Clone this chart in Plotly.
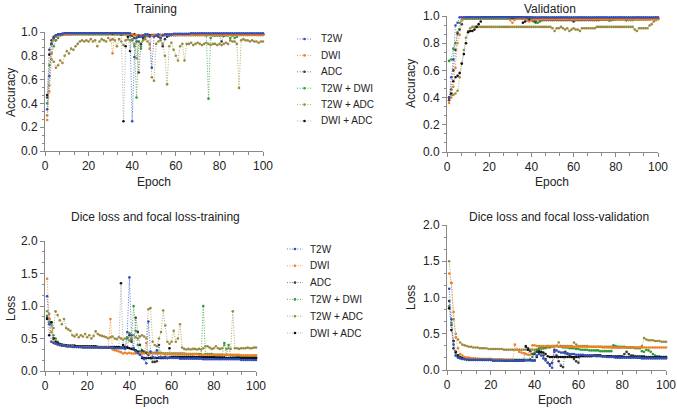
import plotly.graph_objects as go

epochs = list(range(1, 101))
series_names = ["T2W", "DWI", "ADC", "T2W + DWI", "T2W + ADC", "DWI + ADC"]

# ---------------- Training accuracy ----------------
acc_tr_t2w = [
0.35,0.63,0.90,0.95,0.97,0.98,0.98,0.985,0.99,0.99,
0.99,0.99,0.99,0.99,0.99,0.99,0.99,0.99,0.99,0.99,
0.99,0.99,0.99,0.99,0.99,0.99,0.99,0.99,0.99,0.99,
0.99,0.99,0.99,0.99,0.99,0.99,0.99,0.99,0.99,0.25,
0.79,0.95,0.97,0.96,0.97,0.98,0.98,0.97,0.70,0.96,
0.97,0.98,0.95,0.97,0.98,0.98,0.98,0.98,0.985,0.985,
0.985,0.985,0.985,0.985,0.985,0.985,0.99,0.99,0.99,0.99,
0.99,0.99,0.99,0.99,0.99,0.99,0.99,0.99,0.99,0.99,
0.99,0.99,0.99,0.99,0.99,0.99,0.99,0.99,0.99,0.99,
0.99,0.99,0.99,0.99,0.99,0.99,0.99,0.99,0.99,0.99]
acc_tr_dwi = [
0.26,0.50,0.82,0.93,0.96,0.97,0.975,0.98,0.98,0.98,
0.98,0.98,0.985,0.985,0.985,0.985,0.985,0.985,0.985,0.985,
0.985,0.985,0.985,0.985,0.985,0.985,0.985,0.985,0.985,0.985,
0.82,0.98,0.985,0.985,0.985,0.985,0.98,0.98,0.985,0.98,
0.97,0.975,0.975,0.975,0.975,0.975,0.97,0.86,0.97,0.975,
0.975,0.975,0.975,0.975,0.975,0.975,0.975,0.975,0.975,0.975,
0.975,0.975,0.975,0.975,0.975,0.975,0.975,0.975,0.975,0.975,
0.975,0.975,0.975,0.975,0.975,0.975,0.975,0.975,0.975,0.975,
0.975,0.975,0.975,0.975,0.975,0.975,0.975,0.975,0.975,0.975,
0.975,0.975,0.975,0.975,0.975,0.975,0.975,0.975,0.975,0.975]
acc_tr_adc = [
0.45,0.85,0.93,0.96,0.97,0.98,0.98,0.985,0.99,0.99,
0.99,0.99,0.99,0.99,0.99,0.99,0.99,0.99,0.99,0.99,
0.99,0.99,0.99,0.99,0.99,0.99,0.99,0.99,0.99,0.99,
0.99,0.99,0.99,0.99,0.99,0.99,0.99,0.99,0.98,0.97,
0.95,0.92,0.66,0.90,0.95,0.97,0.97,0.96,0.97,0.97,
0.97,0.96,0.95,0.88,0.94,0.96,0.97,0.975,0.975,0.975,
0.975,0.975,0.975,0.975,0.975,0.975,0.975,0.975,0.975,0.975,
0.975,0.975,0.975,0.975,0.975,0.975,0.975,0.975,0.975,0.975,
0.92,0.97,0.98,0.98,0.98,0.98,0.98,0.98,0.98,0.98,
0.98,0.98,0.98,0.98,0.98,0.98,0.98,0.98,0.98,0.98]
acc_tr_t2w_dwi = [
0.40,0.72,0.82,0.88,0.93,0.95,0.97,0.975,0.98,0.98,
0.98,0.98,0.98,0.98,0.98,0.98,0.98,0.98,0.98,0.98,
0.98,0.98,0.98,0.98,0.98,0.98,0.98,0.98,0.98,0.98,
0.98,0.98,0.98,0.98,0.98,0.98,0.98,0.98,0.97,0.93,
0.88,0.45,0.92,0.86,0.95,0.96,0.97,0.97,0.97,0.975,
0.975,0.975,0.975,0.975,0.975,0.975,0.975,0.975,0.975,0.975,
0.975,0.975,0.975,0.975,0.975,0.975,0.975,0.975,0.975,0.975,
0.975,0.975,0.975,0.97,0.44,0.95,0.97,0.97,0.97,0.97,
0.97,0.97,0.97,0.97,0.95,0.97,0.95,0.96,0.975,0.975,
0.975,0.975,0.975,0.975,0.975,0.975,0.975,0.975,0.975,0.975]
acc_tr_t2w_adc = [
0.30,0.55,0.77,0.75,0.70,0.72,0.76,0.74,0.80,0.84,
0.82,0.86,0.85,0.88,0.90,0.92,0.93,0.92,0.93,0.92,
0.94,0.92,0.93,0.88,0.92,0.94,0.93,0.92,0.95,0.93,
0.94,0.93,0.88,0.94,0.92,0.89,0.93,0.94,0.93,0.94,
0.90,0.78,0.92,0.88,0.93,0.94,0.92,0.90,0.62,0.59,
0.90,0.92,0.93,0.90,0.80,0.56,0.88,0.91,0.85,0.80,
0.76,0.88,0.90,0.76,0.90,0.90,0.91,0.89,0.90,0.91,
0.90,0.89,0.90,0.91,0.90,0.89,0.90,0.90,0.89,0.90,
0.89,0.90,0.91,0.90,0.93,0.92,0.92,0.90,0.53,0.93,
0.94,0.93,0.93,0.92,0.93,0.92,0.92,0.91,0.92,0.92]
acc_tr_dwi_adc = [
0.47,0.81,0.90,0.95,0.97,0.975,0.98,0.98,0.985,0.99,
0.99,0.99,0.99,0.99,0.99,0.99,0.99,0.99,0.99,0.99,
0.99,0.99,0.99,0.99,0.99,0.99,0.99,0.99,0.99,0.99,
0.99,0.99,0.99,0.99,0.98,0.25,0.88,0.96,0.84,0.97,
0.98,0.97,0.96,0.97,0.97,0.975,0.975,0.975,0.975,0.975,
0.975,0.975,0.975,0.975,0.975,0.975,0.975,0.975,0.975,0.975,
0.98,0.98,0.98,0.98,0.98,0.98,0.98,0.98,0.98,0.98,
0.98,0.98,0.98,0.98,0.98,0.98,0.98,0.98,0.98,0.98,
0.98,0.98,0.98,0.98,0.98,0.98,0.98,0.98,0.98,0.98,
0.98,0.98,0.98,0.98,0.98,0.98,0.98,0.98,0.98,0.98]

# ---------------- Validation accuracy ----------------
acc_va_t2w = [
0.40,0.55,0.68,0.93,0.95,0.99,0.99,0.99,0.99,0.99,
0.99,0.99,0.99,0.99,0.99,0.99,0.99,0.99,0.99,0.99,
0.99,0.99,0.99,0.99,0.99,0.99,0.99,0.99,0.99,0.99,
0.99,0.99,0.99,0.99,0.99,0.99,0.99,0.99,0.99,0.99,
0.99,0.99,0.99,0.99,0.99,0.99,0.99,0.99,0.99,0.99,
0.99,0.99,0.99,0.99,0.99,0.99,0.99,0.99,0.99,0.99,
0.99,0.99,0.99,0.99,0.99,0.99,0.99,0.99,0.99,0.99,
0.99,0.99,0.99,0.99,0.99,0.99,0.99,0.99,0.99,0.99,
0.99,0.99,0.99,0.99,0.99,0.99,0.99,0.99,0.99,0.99,
0.99,0.99,0.99,0.99,0.99,0.99,0.99,0.99,0.99,0.99]
acc_va_dwi = [
0.36,0.40,0.48,0.62,0.80,0.86,0.97,0.98,0.985,0.985,
0.985,0.985,0.985,0.985,0.985,0.985,0.985,0.985,0.985,0.985,
0.985,0.985,0.985,0.985,0.985,0.985,0.985,0.985,0.985,0.97,
0.95,0.97,0.98,0.98,0.98,0.98,0.98,0.97,0.96,0.97,
0.975,0.975,0.975,0.975,0.975,0.975,0.975,0.975,0.975,0.975,
0.975,0.975,0.975,0.975,0.975,0.975,0.975,0.975,0.975,0.975,
0.975,0.975,0.975,0.975,0.975,0.975,0.975,0.975,0.975,0.975,
0.975,0.975,0.975,0.975,0.975,0.975,0.975,0.975,0.975,0.975,
0.975,0.975,0.975,0.975,0.975,0.975,0.975,0.975,0.975,0.975,
0.975,0.975,0.975,0.975,0.975,0.975,0.975,0.975,0.975,0.975]
acc_va_adc = [
0.38,0.46,0.60,0.75,0.87,0.90,0.94,0.98,0.99,0.99,
0.99,0.99,0.99,0.99,0.99,0.99,0.99,0.99,0.99,0.99,
0.99,0.99,0.99,0.99,0.99,0.99,0.99,0.99,0.99,0.99,
0.99,0.99,0.99,0.99,0.99,0.99,0.99,0.99,0.99,0.99,
0.97,0.96,0.98,0.97,0.97,0.97,0.97,0.97,0.97,0.97,
0.97,0.97,0.97,0.97,0.97,0.97,0.97,0.97,0.97,0.96,
0.97,0.97,0.97,0.97,0.97,0.97,0.97,0.97,0.97,0.97,
0.97,0.97,0.975,0.975,0.975,0.975,0.975,0.975,0.975,0.98,
0.98,0.98,0.98,0.98,0.97,0.98,0.98,0.98,0.98,0.98,
0.98,0.98,0.98,0.98,0.98,0.98,0.98,0.98,0.98,0.98]
acc_va_t2w_dwi = [
0.67,0.68,0.76,0.80,0.88,0.95,0.97,0.98,0.98,0.98,
0.98,0.98,0.98,0.98,0.98,0.98,0.98,0.98,0.98,0.98,
0.98,0.98,0.98,0.98,0.98,0.98,0.98,0.98,0.98,0.98,
0.98,0.98,0.98,0.98,0.98,0.98,0.98,0.98,0.98,0.98,
0.96,0.95,0.95,0.96,0.97,0.975,0.975,0.975,0.975,0.975,
0.975,0.975,0.975,0.975,0.975,0.975,0.975,0.975,0.975,0.975,
0.975,0.975,0.975,0.975,0.975,0.975,0.975,0.975,0.975,0.975,
0.975,0.975,0.975,0.975,0.975,0.975,0.965,0.97,0.975,0.975,
0.975,0.975,0.975,0.975,0.97,0.97,0.97,0.97,0.975,0.975,
0.975,0.975,0.975,0.975,0.975,0.975,0.98,0.98,0.98,0.98]
acc_va_t2w_adc = [
0.40,0.42,0.42,0.43,0.45,0.55,0.65,0.75,0.84,0.89,
0.91,0.92,0.92,0.92,0.92,0.92,0.92,0.92,0.92,0.92,
0.92,0.92,0.92,0.92,0.92,0.92,0.92,0.92,0.92,0.92,
0.92,0.92,0.92,0.92,0.92,0.92,0.92,0.92,0.92,0.92,
0.92,0.92,0.92,0.92,0.92,0.92,0.92,0.92,0.92,0.91,
0.89,0.91,0.91,0.92,0.91,0.90,0.91,0.89,0.90,0.91,
0.90,0.90,0.89,0.91,0.91,0.91,0.91,0.91,0.91,0.91,
0.92,0.92,0.92,0.92,0.92,0.92,0.92,0.92,0.92,0.92,
0.92,0.92,0.92,0.92,0.92,0.92,0.92,0.92,0.90,0.89,
0.91,0.91,0.91,0.91,0.91,0.93,0.94,0.96,0.97,0.98]
acc_va_dwi_adc = [
0.40,0.43,0.52,0.55,0.56,0.58,0.65,0.72,0.80,0.88,
0.89,0.89,0.90,0.92,0.94,0.96,0.99,0.99,0.99,0.99,
0.99,0.99,0.99,0.99,0.99,0.99,0.99,0.99,0.99,0.99,
0.99,0.99,0.99,0.99,0.99,0.95,0.96,0.97,0.97,0.97,
0.98,0.98,0.98,0.98,0.98,0.98,0.98,0.98,0.98,0.98,
0.98,0.98,0.98,0.98,0.98,0.98,0.98,0.98,0.98,0.98,
0.98,0.98,0.98,0.98,0.98,0.98,0.98,0.98,0.98,0.98,
0.98,0.98,0.98,0.98,0.98,0.98,0.98,0.98,0.98,0.98,
0.98,0.98,0.98,0.98,0.98,0.98,0.98,0.98,0.98,0.98,
0.98,0.98,0.98,0.98,0.98,0.98,0.98,0.98,0.98,0.98]

# ---------------- Training loss ----------------
loss_tr_t2w = [
1.15,0.72,0.45,0.43,0.42,0.41,0.40,0.39,0.39,0.38,
0.38,0.38,0.37,0.37,0.37,0.37,0.37,0.36,0.36,0.36,
0.36,0.36,0.36,0.36,0.36,0.36,0.36,0.36,0.36,0.36,
0.36,0.36,0.35,0.35,0.35,0.35,0.35,0.34,0.60,1.44,
0.55,0.35,0.30,0.28,0.25,0.22,0.18,0.12,0.76,0.30,
0.22,0.20,0.32,0.21,0.21,0.21,0.20,0.20,0.20,0.20,
0.20,0.20,0.20,0.19,0.19,0.19,0.19,0.19,0.19,0.19,
0.19,0.19,0.19,0.19,0.18,0.18,0.18,0.18,0.18,0.18,
0.18,0.18,0.18,0.18,0.18,0.18,0.18,0.18,0.18,0.18,
0.18,0.18,0.17,0.17,0.17,0.17,0.17,0.17,0.17,0.17]
loss_tr_dwi = [
1.42,0.80,0.60,0.45,0.42,0.40,0.40,0.39,0.39,0.38,
0.38,0.38,0.38,0.37,0.37,0.37,0.37,0.37,0.37,0.37,
0.37,0.36,0.36,0.36,0.36,0.36,0.36,0.36,0.36,0.37,
0.80,0.33,0.32,0.31,0.30,0.29,0.27,0.28,0.27,0.28,
0.27,0.27,0.27,0.27,0.27,0.27,0.27,0.43,0.27,0.27,
0.27,0.27,0.27,0.27,0.27,0.27,0.26,0.26,0.26,0.26,
0.26,0.26,0.26,0.26,0.26,0.26,0.26,0.26,0.26,0.26,
0.26,0.26,0.25,0.25,0.25,0.25,0.25,0.25,0.25,0.25,
0.25,0.25,0.25,0.25,0.25,0.25,0.25,0.25,0.25,0.25,
0.25,0.25,0.24,0.24,0.24,0.24,0.24,0.24,0.24,0.24]
loss_tr_adc = [
0.82,0.80,0.75,0.50,0.45,0.42,0.40,0.40,0.39,0.39,
0.38,0.38,0.38,0.38,0.38,0.37,0.37,0.37,0.37,0.37,
0.37,0.37,0.37,0.37,0.37,0.36,0.36,0.36,0.36,0.36,
0.36,0.36,0.36,0.36,0.36,0.36,0.36,0.36,0.36,0.55,
0.45,0.35,0.82,0.60,0.40,0.32,0.30,0.28,0.25,0.20,
0.14,0.14,0.15,0.40,0.20,0.20,0.22,0.20,0.21,0.22,
0.22,0.22,0.22,0.22,0.22,0.22,0.22,0.22,0.22,0.22,
0.21,0.21,0.21,0.21,0.21,0.21,0.21,0.21,0.21,0.21,
0.21,0.21,0.21,0.21,0.21,0.20,0.20,0.20,0.20,0.20,
0.20,0.20,0.20,0.20,0.20,0.20,0.20,0.20,0.20,0.20]
loss_tr_t2w_dwi = [
0.85,0.75,0.72,0.55,0.50,0.45,0.42,0.41,0.40,0.39,
0.38,0.38,0.38,0.38,0.38,0.37,0.37,0.37,0.37,0.37,
0.37,0.37,0.37,0.37,0.37,0.36,0.36,0.36,0.36,0.36,
0.36,0.36,0.36,0.36,0.36,0.36,0.36,0.36,0.50,0.58,
0.48,1.00,0.62,0.40,0.30,0.29,0.28,0.28,0.28,0.28,
0.28,0.28,0.28,0.28,0.28,0.27,0.27,0.27,0.27,0.27,
0.27,0.27,0.27,0.27,0.27,0.27,0.26,0.26,0.26,0.26,
0.26,0.26,0.26,0.26,1.00,0.26,0.26,0.26,0.26,0.25,
0.25,0.25,0.25,0.25,0.43,0.25,0.40,0.24,0.24,0.24,
0.23,0.23,0.23,0.22,0.22,0.22,0.22,0.21,0.21,0.21]
loss_tr_t2w_adc = [
0.92,0.88,0.70,0.66,0.92,0.86,0.78,0.72,0.80,0.66,
0.64,0.62,0.55,0.53,0.56,0.52,0.55,0.53,0.57,0.52,
0.55,0.50,0.54,0.61,0.57,0.55,0.54,0.53,0.52,0.50,
0.52,0.53,0.50,0.49,0.52,0.50,0.48,0.50,0.52,0.47,
0.50,0.55,0.52,0.50,0.53,0.55,0.53,0.50,0.95,0.97,
0.45,0.40,0.38,0.50,0.60,0.93,0.70,0.45,0.42,0.45,
0.62,0.45,0.50,0.72,0.36,0.34,0.33,0.34,0.33,0.34,
0.34,0.33,0.34,0.33,0.35,0.38,0.38,0.36,0.34,0.35,
0.38,0.35,0.34,0.35,0.40,0.34,0.35,0.34,0.92,0.35,
0.35,0.34,0.35,0.35,0.35,0.36,0.35,0.35,0.36,0.36]
loss_tr_dwi_adc = [
0.80,0.55,0.75,0.50,0.45,0.43,0.41,0.40,0.40,0.39,
0.39,0.39,0.39,0.39,0.38,0.38,0.38,0.38,0.38,0.38,
0.38,0.38,0.38,0.38,0.37,0.37,0.37,0.37,0.37,0.37,
0.37,0.37,0.37,0.37,0.37,1.35,0.40,0.37,0.36,0.35,
0.34,0.33,0.32,0.30,0.25,0.20,0.20,0.20,0.20,0.20,
0.20,0.20,0.20,0.20,0.20,0.20,0.20,0.20,0.35,0.21,
0.21,0.21,0.21,0.21,0.21,0.21,0.21,0.21,0.21,0.21,
0.21,0.21,0.21,0.21,0.21,0.21,0.21,0.21,0.21,0.21,
0.20,0.20,0.20,0.20,0.20,0.20,0.20,0.20,0.20,0.20,
0.20,0.20,0.20,0.20,0.20,0.20,0.20,0.20,0.20,0.20]

# ---------------- Validation loss ----------------
loss_va_t2w = [
1.12,0.70,0.35,0.20,0.17,0.16,0.15,0.15,0.14,0.14,
0.14,0.14,0.14,0.14,0.14,0.14,0.14,0.14,0.14,0.14,
0.13,0.13,0.13,0.13,0.13,0.13,0.13,0.13,0.13,0.13,
0.13,0.13,0.13,0.13,0.13,0.13,0.13,0.13,0.13,0.13,
0.20,0.22,0.20,0.16,0.13,0.10,0.06,0.03,0.25,0.27,
0.25,0.24,0.24,0.23,0.23,0.22,0.22,0.22,0.21,0.21,
0.21,0.21,0.20,0.20,0.20,0.20,0.20,0.19,0.19,0.19,
0.19,0.19,0.18,0.18,0.18,0.18,0.17,0.17,0.17,0.17,
0.17,0.17,0.17,0.17,0.17,0.17,0.17,0.17,0.16,0.16,
0.16,0.16,0.16,0.16,0.16,0.16,0.16,0.16,0.16,0.16]
loss_va_dwi = [
1.33,1.20,0.80,0.45,0.30,0.22,0.20,0.18,0.17,0.17,
0.16,0.16,0.16,0.15,0.15,0.15,0.15,0.15,0.15,0.15,
0.14,0.14,0.14,0.14,0.14,0.14,0.14,0.14,0.14,0.14,
0.35,0.28,0.25,0.24,0.23,0.22,0.21,0.21,0.34,0.34,
0.33,0.33,0.33,0.33,0.33,0.33,0.33,0.33,0.33,0.33,
0.32,0.32,0.32,0.32,0.32,0.32,0.32,0.32,0.32,0.32,
0.32,0.32,0.32,0.32,0.32,0.32,0.32,0.32,0.32,0.32,
0.31,0.31,0.31,0.31,0.31,0.31,0.31,0.31,0.31,0.31,
0.31,0.31,0.31,0.31,0.31,0.31,0.31,0.31,0.31,0.31,
0.31,0.31,0.31,0.31,0.31,0.31,0.31,0.31,0.31,0.31]
loss_va_adc = [
0.95,0.62,0.30,0.24,0.20,0.18,0.17,0.16,0.16,0.15,
0.15,0.15,0.15,0.15,0.15,0.14,0.14,0.14,0.14,0.14,
0.14,0.14,0.14,0.14,0.14,0.13,0.13,0.13,0.13,0.13,
0.13,0.13,0.13,0.13,0.13,0.33,0.30,0.26,0.22,0.22,
0.25,0.26,0.24,0.20,0.15,0.10,0.08,0.10,0.28,0.20,
0.12,0.06,0.04,0.25,0.22,0.20,0.18,0.15,0.12,0.10,
0.20,0.20,0.20,0.20,0.20,0.20,0.20,0.20,0.20,0.20,
0.19,0.19,0.19,0.19,0.19,0.19,0.19,0.19,0.19,0.19,
0.22,0.25,0.22,0.20,0.20,0.19,0.19,0.19,0.19,0.19,
0.18,0.18,0.18,0.18,0.18,0.18,0.18,0.18,0.18,0.18]
loss_va_t2w_dwi = [
0.88,0.65,0.30,0.20,0.18,0.17,0.16,0.16,0.15,0.15,
0.15,0.15,0.15,0.15,0.15,0.15,0.15,0.15,0.15,0.15,
0.14,0.14,0.14,0.14,0.14,0.14,0.14,0.14,0.14,0.14,
0.14,0.14,0.14,0.14,0.14,0.14,0.14,0.14,0.18,0.24,
0.28,0.30,0.32,0.30,0.31,0.33,0.32,0.33,0.33,0.33,
0.32,0.32,0.31,0.31,0.31,0.30,0.30,0.30,0.29,0.29,
0.28,0.28,0.28,0.28,0.27,0.27,0.27,0.27,0.27,0.26,
0.26,0.26,0.26,0.26,0.26,0.34,0.33,0.32,0.32,0.32,
0.32,0.31,0.31,0.31,0.31,0.30,0.30,0.30,0.26,0.25,
0.28,0.27,0.25,0.22,0.20,0.19,0.19,0.18,0.18,0.18]
loss_va_t2w_adc = [
1.50,1.20,0.70,0.50,0.42,0.38,0.35,0.34,0.33,0.32,
0.32,0.31,0.31,0.31,0.30,0.30,0.30,0.30,0.29,0.29,
0.29,0.29,0.29,0.29,0.29,0.28,0.28,0.28,0.28,0.28,
0.28,0.28,0.28,0.28,0.28,0.28,0.28,0.28,0.28,0.28,
0.28,0.29,0.29,0.30,0.30,0.31,0.31,0.32,0.32,0.33,
0.38,0.33,0.33,0.33,0.33,0.33,0.33,0.38,0.35,0.33,
0.33,0.33,0.33,0.33,0.32,0.32,0.32,0.32,0.32,0.32,
0.32,0.32,0.32,0.32,0.32,0.31,0.31,0.31,0.31,0.31,
0.31,0.31,0.31,0.31,0.31,0.31,0.31,0.31,0.33,0.44,
0.42,0.41,0.41,0.41,0.40,0.40,0.40,0.39,0.39,0.39]
loss_va_dwi_adc = [
0.85,0.55,0.40,0.25,0.20,0.17,0.16,0.15,0.15,0.14,
0.14,0.14,0.14,0.14,0.14,0.14,0.14,0.14,0.14,0.14,
0.13,0.13,0.13,0.13,0.13,0.13,0.13,0.13,0.13,0.13,
0.13,0.13,0.13,0.13,0.13,0.32,0.28,0.14,0.13,0.13,
0.18,0.24,0.25,0.24,0.22,0.19,0.18,0.18,0.18,0.18,
0.18,0.18,0.18,0.18,0.18,0.18,0.18,0.18,0.18,0.18,
0.19,0.19,0.19,0.19,0.19,0.19,0.20,0.20,0.20,0.20,
0.19,0.19,0.19,0.19,0.19,0.18,0.18,0.18,0.18,0.18,
0.18,0.18,0.18,0.18,0.18,0.18,0.17,0.17,0.17,0.17,
0.17,0.17,0.17,0.17,0.17,0.17,0.17,0.17,0.17,0.17]

line_colors = ["#5a76d0", "#f59a4e", "#7a7a7a", "#55b05e", "#b8aa66", "#b0b0b0"]
marker_colors = ["#2f4fbf", "#f07f22", "#3a3a3a", "#2f9a3a", "#9a8a3e", "#111111"]
DOT = "1px,1.6px"

panels = [
    ("x", "y", [acc_tr_t2w, acc_tr_dwi, acc_tr_adc, acc_tr_t2w_dwi, acc_tr_t2w_adc, acc_tr_dwi_adc]),
    ("x2", "y2", [acc_va_t2w, acc_va_dwi, acc_va_adc, acc_va_t2w_dwi, acc_va_t2w_adc, acc_va_dwi_adc]),
    ("x3", "y3", [loss_tr_t2w, loss_tr_dwi, loss_tr_adc, loss_tr_t2w_dwi, loss_tr_t2w_adc, loss_tr_dwi_adc]),
    ("x4", "y4", [loss_va_t2w, loss_va_dwi, loss_va_adc, loss_va_t2w_dwi, loss_va_t2w_adc, loss_va_dwi_adc]),
]

FONT = "Liberation Sans, Arial, Helvetica, sans-serif"
fig = go.Figure()
draw_order = [4, 3, 2, 5, 1, 0]
for xa, ya, data in panels:
    for i in draw_order:
        fig.add_trace(go.Scatter(
            x=epochs, y=data[i], xaxis=xa, yaxis=ya, name=series_names[i],
            mode="lines+markers", cliponaxis=False, showlegend=False,
            line=dict(color=line_colors[i], width=1, dash=DOT),
            marker=dict(color=marker_colors[i], size=2.6, line=dict(width=0))))

def ax_common(rng, dtick, minor_dtick, fmt=None):
    d = dict(range=rng, dtick=dtick, tick0=0, showline=True, linecolor="#8a8a8a", linewidth=1,
             ticks="outside", ticklen=4, tickcolor="#8a8a8a", tickwidth=1,
             showgrid=False, zeroline=False, fixedrange=True, automargin=False,
             tickfont=dict(family=FONT, size=12, color="#222222"),
             minor=dict(dtick=minor_dtick, tick0=0, ticks="outside", ticklen=2.5, tickcolor="#8a8a8a", showgrid=False))
    if fmt:
        d["tickformat"] = fmt
    return d

W, H = 677, 409
def xd(a, b):
    return [a / W, b / W]
def yd(top, bottom):
    return [1 - bottom / H, 1 - top / H]

fig.update_layout(
    width=W, height=H, autosize=False,
    margin=dict(l=0, r=0, t=0, b=0, autoexpand=False),
    paper_bgcolor="white", plot_bgcolor="white", showlegend=False,
    font=dict(family=FONT, size=12, color="#222222"),
    xaxis=dict(domain=xd(45, 263), anchor="y", **ax_common([0, 100], 20, 20 / 3)),
    yaxis=dict(domain=yd(32, 151), anchor="x", **ax_common([0, 1.0], 0.2, 0.2 / 3, fmt=".1f")),
    xaxis2=dict(domain=xd(447, 658), anchor="y2", **ax_common([0, 100], 20, 20 / 3)),
    yaxis2=dict(domain=yd(16, 152), anchor="x2", **ax_common([0, 1.0], 0.2, 0.2 / 3, fmt=".1f")),
    xaxis3=dict(domain=xd(45, 256), anchor="y3", **ax_common([0, 100], 20, 20 / 3)),
    yaxis3=dict(domain=yd(241, 371), anchor="x3", **ax_common([0, 2.0], 0.5, 0.5 / 3, fmt=".1f")),
    xaxis4=dict(domain=xd(447, 666), anchor="y4", **ax_common([0, 100], 20, 20 / 3)),
    yaxis4=dict(domain=yd(225, 370), anchor="x4", **ax_common([0, 2.0], 0.5, 0.5 / 3, fmt=".1f")),
)

annots = [
    ("Training", 155, 9.5, 0),
    ("Validation", 550, 9, 0),
    ("Dice loss and focal loss-training", 155, 217, 0),
    ("Dice loss and focal loss-validation", 559, 217, 0),
    ("Epoch", 154, 182, 0),
    ("Epoch", 552, 182, 0),
    ("Epoch", 152, 400, 0),
    ("Epoch", 555, 400, 0),
    ("Accuracy", 11, 92, -90),
    ("Accuracy", 411, 84, -90),
    ("Loss", 11, 308, -90),
    ("Loss", 411, 298, -90),
]
for text, px, py, ang in annots:
    fig.add_annotation(text=text, x=px / W, y=1 - py / H, xref="paper", yref="paper",
                       xanchor="center", yanchor="middle", showarrow=False, textangle=ang,
                       font=dict(family=FONT, size=12, color="#222222"))

# Hand-made legends (key line, key marker, label) for the two left panels
legend_specs = [
    (297, 312, 319, 39, 16.4),   # training accuracy legend: line x0, x1, text x, first row y, row step
    (287, 303, 308, 249, 16.8),  # training loss legend
]
for lx0, lx1, tx, ty0, step in legend_specs:
    for i, name in enumerate(series_names):
        yy = 1 - (ty0 + i * step) / H
        fig.add_shape(type="line", xref="paper", yref="paper", x0=lx0 / W, x1=lx1 / W, y0=yy, y1=yy,
                      line=dict(color=line_colors[i], width=1, dash=DOT))
        cx = (lx0 + lx1) / 2
        fig.add_shape(type="circle", xref="paper", yref="paper",
                      x0=(cx - 1.3) / W, x1=(cx + 1.3) / W, y0=yy - 1.3 / H, y1=yy + 1.3 / H,
                      line=dict(width=0), fillcolor=marker_colors[i])
        fig.add_annotation(text=name, x=tx / W, y=yy, xref="paper", yref="paper",
                           xanchor="left", yanchor="middle", showarrow=False,
                           font=dict(family=FONT, size=10, color="#222222"))

fig.write_html("out.html", config={"displayModeBar": False, "staticPlot": True},
               post_script="document.body.style.margin='0';document.body.style.padding='0';")
